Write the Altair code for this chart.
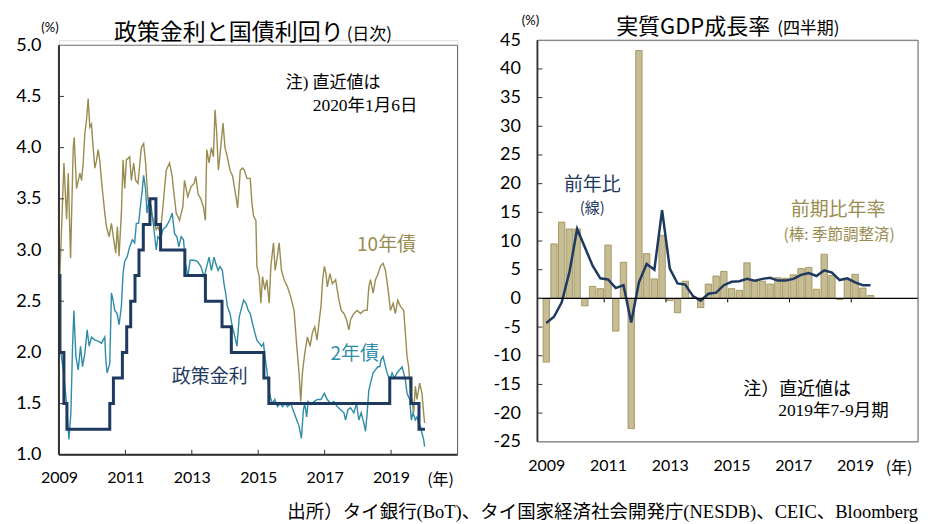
import altair as alt
import pandas as pd

# ---------------- Left panel: policy rate & government bond yields (daily) ----------------
policy_year = [2009.0, 2009.03, 2009.15, 2009.24, 2010.53, 2010.64, 2010.91, 2011.04, 2011.16,
               2011.29, 2011.41, 2011.54, 2011.74, 2011.92, 2012.06, 2012.79, 2013.41, 2013.91,
               2014.19, 2015.17, 2015.32, 2018.96, 2019.6, 2019.84, 2020.02]
policy_rate = [2.75, 2.00, 1.50, 1.25, 1.50, 1.75, 2.00, 2.25, 2.50,
               2.75, 3.00, 3.25, 3.50, 3.25, 3.00, 2.75, 2.50, 2.25,
               2.00, 1.75, 1.50, 1.75, 1.50, 1.25, 1.25]

y10_year = [2009.01, 2009.03, 2009.15, 2009.23, 2009.28, 2009.35, 2009.43, 2009.46, 2009.53, 2009.63,
            2009.68, 2009.73, 2009.78, 2009.83, 2009.88, 2009.93, 2009.98, 2010.03, 2010.08, 2010.13,
            2010.18, 2010.23, 2010.28, 2010.33, 2010.38, 2010.43, 2010.51, 2010.58, 2010.65, 2010.71,
            2010.76, 2010.81, 2010.88, 2010.93, 2010.98, 2011.03, 2011.13, 2011.18, 2011.25, 2011.31,
            2011.38, 2011.48, 2011.55, 2011.61, 2011.68, 2011.78, 2011.85, 2011.93, 2011.98, 2012.05,
            2012.13, 2012.23, 2012.33, 2012.41, 2012.45, 2012.53, 2012.63, 2012.73, 2012.78, 2012.88,
            2012.98, 2013.07, 2013.12, 2013.19, 2013.27, 2013.35, 2013.41, 2013.45, 2013.52, 2013.59,
            2013.65, 2013.70, 2013.75, 2013.80, 2013.87, 2013.94, 2014.00, 2014.07, 2014.15, 2014.23,
            2014.28, 2014.33, 2014.38, 2014.46, 2014.53, 2014.58, 2014.66, 2014.76, 2014.81, 2014.86,
            2014.93, 2014.96, 2015.03, 2015.08, 2015.13, 2015.20, 2015.26, 2015.33, 2015.38, 2015.46,
            2015.51, 2015.56, 2015.63, 2015.70, 2015.78, 2015.88, 2015.98, 2016.08, 2016.16, 2016.23,
            2016.28, 2016.33, 2016.40, 2016.48, 2016.56, 2016.63, 2016.70, 2016.77, 2016.84, 2016.89,
            2016.94, 2016.99, 2017.04, 2017.08, 2017.16, 2017.23, 2017.33, 2017.43, 2017.50, 2017.58,
            2017.66, 2017.73, 2017.78, 2017.88, 2017.98, 2018.08, 2018.18, 2018.28, 2018.33, 2018.38,
            2018.46, 2018.53, 2018.60, 2018.68, 2018.76, 2018.83, 2018.90, 2018.98, 2019.06, 2019.13,
            2019.20, 2019.28, 2019.38, 2019.43, 2019.48, 2019.53, 2019.58, 2019.63, 2019.68, 2019.73,
            2019.78, 2019.86, 2019.93, 2019.98, 2020.01]
y10_value = [2.60, 2.77, 3.85, 3.30, 3.75, 2.92, 4.00, 4.10, 3.60, 3.75,
             3.68, 3.85, 4.14, 4.27, 4.48, 4.20, 4.23, 4.00, 3.80, 3.87,
             3.98, 3.87, 3.68, 3.52, 3.36, 3.23, 3.13, 3.26, 3.10, 2.97,
             3.23, 2.94, 3.36, 3.88, 3.60, 3.88, 3.91, 3.68, 3.85, 3.68,
             3.65, 4.00, 4.04, 3.85, 3.49, 3.36, 3.29, 3.20, 3.23, 3.16,
             3.42, 3.78, 3.85, 3.72, 3.59, 3.36, 3.29, 3.42, 3.68, 3.52,
             3.62, 3.65, 3.72, 3.55, 3.50, 3.42, 3.29, 3.98, 3.85, 4.00,
             3.91, 4.37, 4.14, 3.78, 4.00, 4.24, 4.00, 3.91, 3.78, 3.72,
             3.62, 3.52, 3.41, 3.78, 3.80, 3.78, 3.70, 3.70, 3.46, 3.33,
             3.29, 2.84, 2.74, 2.48, 2.74, 2.61, 2.71, 2.48, 2.84, 3.07,
             2.80, 2.90, 3.07, 2.80, 2.71, 2.64, 2.54, 2.41, 2.06, 1.80,
             1.52, 1.80, 1.99, 2.15, 2.06, 2.19, 2.25, 2.12, 2.32, 2.45,
             2.71, 2.84, 2.77, 2.64, 2.77, 2.67, 2.71, 2.51, 2.41, 2.38,
             2.32, 2.22, 2.32, 2.38, 2.41, 2.38, 2.41, 2.41, 2.64, 2.71,
             2.58, 2.71, 2.76, 2.84, 2.87, 2.80, 2.64, 2.41, 2.48, 2.38,
             2.51, 2.45, 2.41, 2.19, 1.96, 1.86, 1.60, 1.54, 1.41, 1.67,
             1.54, 1.70, 1.60, 1.41, 1.31]

y2_year = [2009.01, 2009.03, 2009.13, 2009.23, 2009.30, 2009.36, 2009.41, 2009.45, 2009.51, 2009.58,
           2009.65, 2009.71, 2009.78, 2009.85, 2009.91, 2009.98, 2010.08, 2010.18, 2010.28, 2010.38,
           2010.41, 2010.45, 2010.53, 2010.58, 2010.63, 2010.68, 2010.75, 2010.81, 2010.88, 2010.93,
           2010.98, 2011.05, 2011.13, 2011.21, 2011.28, 2011.33, 2011.40, 2011.45, 2011.51, 2011.55,
           2011.61, 2011.65, 2011.71, 2011.78, 2011.85, 2011.93, 2011.98, 2012.05, 2012.13, 2012.23,
           2012.33, 2012.41, 2012.48, 2012.55, 2012.61, 2012.68, 2012.75, 2012.81, 2012.88, 2012.95,
           2013.07, 2013.17, 2013.27, 2013.37, 2013.45, 2013.52, 2013.59, 2013.67, 2013.72, 2013.79,
           2013.85, 2013.92, 2013.97, 2014.02, 2014.07, 2014.15, 2014.22, 2014.27, 2014.36, 2014.43,
           2014.48, 2014.56, 2014.63, 2014.70, 2014.76, 2014.83, 2014.90, 2014.96, 2015.03, 2015.10,
           2015.16, 2015.20, 2015.26, 2015.31, 2015.36, 2015.43, 2015.50, 2015.58, 2015.66, 2015.73,
           2015.81, 2015.88, 2015.98, 2016.08, 2016.16, 2016.23, 2016.30, 2016.36, 2016.40, 2016.46,
           2016.50, 2016.58, 2016.68, 2016.78, 2016.89, 2016.99, 2017.08, 2017.18, 2017.28, 2017.38,
           2017.48, 2017.58, 2017.63, 2017.70, 2017.78, 2017.88, 2017.96, 2018.03, 2018.10, 2018.18,
           2018.23, 2018.28, 2018.33, 2018.38, 2018.46, 2018.53, 2018.60, 2018.66, 2018.70, 2018.76,
           2018.81, 2018.88, 2018.96, 2019.03, 2019.10, 2019.18, 2019.26, 2019.33, 2019.38, 2019.43,
           2019.48, 2019.56, 2019.61, 2019.66, 2019.73, 2019.78, 2019.83, 2019.88, 2019.93, 2019.98,
           2020.01]
y2_value = [2.10, 2.06, 1.83, 1.50, 1.15, 1.41, 2.06, 2.41, 1.96, 1.83,
            2.06, 1.86, 1.99, 2.22, 2.06, 2.15, 2.12, 2.11, 2.09, 2.15,
            1.93, 1.80, 1.89, 2.58, 2.51, 2.41, 2.38, 2.27, 2.45, 2.77,
            2.89, 2.93, 3.03, 3.10, 3.07, 3.26, 3.26, 3.42, 3.59, 3.73,
            3.59, 3.36, 3.49, 3.42, 3.23, 3.00, 3.13, 3.10, 3.20, 3.23,
            3.29, 3.36, 3.16, 3.13, 3.03, 3.13, 3.10, 2.87, 2.74, 2.90,
            2.90, 2.89, 2.84, 2.74, 2.84, 2.93, 2.80, 2.93, 2.87, 2.80,
            2.84, 2.80, 2.67, 2.58, 2.45, 2.38, 2.25, 2.19, 2.06, 2.35,
            2.41, 2.51, 2.48, 2.41, 2.38, 2.28, 2.19, 2.12, 2.09, 2.06,
            2.09, 1.96, 1.83, 1.67, 1.57, 1.50, 1.54, 1.47, 1.50, 1.47,
            1.50, 1.47, 1.50, 1.41, 1.34, 1.28, 1.16, 1.44, 1.50, 1.37,
            1.52, 1.49, 1.52, 1.54, 1.54, 1.60, 1.54, 1.50, 1.52, 1.47,
            1.44, 1.41, 1.34, 1.44, 1.46, 1.41, 1.50, 1.34, 1.41, 1.31,
            1.23, 1.41, 1.63, 1.70, 1.80, 1.83, 1.86, 1.86, 1.93, 1.96,
            1.89, 1.80, 1.73, 1.80, 1.75, 1.80, 1.83, 1.86, 1.80, 1.73,
            1.60, 1.54, 1.34, 1.41, 1.34, 1.37, 1.31, 1.28, 1.21, 1.15,
            1.08]

left_y_ticks = [1.0, 1.5, 2.0, 2.5, 3.0, 3.5, 4.0, 4.5, 5.0]
left_x_ticks = [2009, 2011, 2013, 2015, 2017, 2019]

# ---------------- Right panel: real GDP growth (quarterly) ----------------
quarters = [f"{y}Q{q}" for y in range(2009, 2020) for q in range(1, 5)][:43]
qoq_saar = [-11.1, 9.5, 13.3, 12.1, 12.1, -1.3, 2.1, 1.7, 9.3, -5.7,
            6.3, -22.7, 43.2, 7.8, 3.4, 11.0, -0.4, -2.5, 3.0, 0.2,
            -1.6, 2.5, 3.9, 4.7, 1.7, 1.4, 6.2, 3.0, 3.0, 2.5,
            3.6, 3.5, 4.1, 5.2, 5.4, 1.6, 7.7, 4.0, -0.2, 3.2,
            4.2, 1.8, 0.5]
yoy = [-4.3, -3.2, -0.7, 4.6, 12.1, 8.9, 5.7, 3.5, 3.3, 1.8,
       2.3, -4.2, 2.8, 6.0, 5.0, 15.4, 5.2, 2.6, 2.4, 0.4,
       -0.4, 0.8, 1.0, 2.3, 2.9, 3.0, 3.4, 3.1, 3.4, 3.6,
       3.1, 3.1, 3.4, 4.1, 4.4, 3.9, 4.9, 4.5, 3.2, 3.5,
       2.8, 2.3, 2.3]
right_y_ticks = list(range(-25, 50, 5))
right_year_labels = [2009, 2011, 2013, 2015, 2017, 2019]
n_slots = 48  # 2009Q1 .. 2020Q4

# ---------------- styling ----------------
GOLD = "#9A8C50"
BAR_FILL = "#C6BD95"
TEAL = "#2F8CA8"
NAVY = "#1F3A60"
NUM_FONT = "Lato"
JP_FONT = "Noto Sans CJK JP"
MIX_FONT = "Liberation Serif, Noto Sans CJK JP"

W1, H1 = 399, 415          # left plot: top at 5.05, bottom 1.0
Y1_TOP = 5.0 + 5.0 * 4.0 / 410.0
W2, H2 = 381, 402

dummy = pd.DataFrame({"k": [0]})


def label(text, x, y, size, color="black", font=JP_FONT, align="center", baseline="middle", weight="normal"):
    return alt.Chart(dummy).mark_text(
        text=text, font=font, fontSize=size, color=color, align=align,
        baseline=baseline, fontWeight=weight
    ).encode(x=alt.value(x), y=alt.value(y))


# ---- left panel ----
xs1 = alt.Scale(domain=[2009, 2021], nice=False, zero=False)
ys1 = alt.Scale(domain=[1.0, Y1_TOP], nice=False, zero=False)
ax1x = alt.Axis(values=left_x_ticks, format="d", domain=False, ticks=False, tickSize=0, grid=False,
                labelFlush=False, labelOverlap=False,
                labelFont=NUM_FONT, labelFontSize=16, labelColor="black", labelPadding=15, title=None)
ax1y = alt.Axis(values=left_y_ticks, format=".1f", domain=False, ticks=False, tickSize=0, grid=False,
                labelFlush=False, labelOverlap=False,
                labelFont=NUM_FONT, labelFontSize=18, labelColor="black", labelPadding=18, title=None)


def X1(field):
    return alt.X(field, type="quantitative", scale=xs1, axis=ax1x)


def Y1(field):
    return alt.Y(field, type="quantitative", scale=ys1, axis=ax1y)


df10 = pd.DataFrame({"year": y10_year, "value": y10_value})
df2 = pd.DataFrame({"year": y2_year, "value": y2_value})
dfp = pd.DataFrame({"year": policy_year, "value": policy_rate})
dfyt = pd.DataFrame({"value": left_y_ticks[1:-1]})
dfxt = pd.DataFrame({"year": left_x_ticks[1:]})

l10 = alt.Chart(df10).mark_line(color=GOLD, strokeWidth=1.4).encode(x=X1("year"), y=Y1("value"))
l2 = alt.Chart(df2).mark_line(color=TEAL, strokeWidth=1.4).encode(x=X1("year"), y=Y1("value"))
lp = alt.Chart(dfp).mark_line(color=NAVY, strokeWidth=3, interpolate="step-after").encode(
    x=X1("year"), y=Y1("value"))
frame1 = alt.Chart(dummy).mark_rect(filled=False, stroke="#666666", strokeWidth=1).encode(
    x=alt.value(0), x2=alt.value(W1), y=alt.value(H1 - 410), y2=alt.value(H1))
laxis1 = alt.Chart(dummy).mark_rule(color="#333333", strokeWidth=2).encode(
    x=alt.value(0), y=alt.value(H1 - 410), y2=alt.value(H1))
baxis1 = alt.Chart(dummy).mark_rule(color="#333333", strokeWidth=2).encode(
    x=alt.value(0), x2=alt.value(W1), y=alt.value(H1))
yt1 = alt.Chart(dfyt).mark_rule(color="#333333", strokeWidth=1).encode(
    y=Y1("value"), x=alt.value(0), x2=alt.value(5))
xt1 = alt.Chart(dfxt).mark_rule(color="#333333", strokeWidth=1).encode(
    x=X1("year"), y=alt.value(H1), y2=alt.value(H1 - 5))

left = alt.layer(
    l10, l2, lp, frame1, laxis1, baxis1, yt1, xt1,
    label("政策金利と国債利回り", 285, 0, 23, align="right", baseline="alphabetic"),
    label("(日次)", 288, 0, 17, align="left", baseline="alphabetic"),
    label("(%)", -9, -8, 13, font=NUM_FONT, baseline="alphabetic"),
    label("注) 直近値は", 227, 48, 17, font=MIX_FONT, align="left", baseline="alphabetic"),
    label("2020年1月6日", 254, 71, 17.5, font=MIX_FONT, align="left", baseline="alphabetic"),
    label("10年債", 328, 205, 19, color=GOLD),
    label("2年債", 296, 314, 19, color=TEAL),
    label("政策金利", 151, 337, 19, color=NAVY),
    label("(年)", 382, 440, 16),
).properties(width=W1, height=H1)

# ---- right panel ----
xs2 = alt.Scale(domain=[0, n_slots], nice=False, zero=False)
ys2 = alt.Scale(domain=[-25, 45], nice=False, zero=False)
ax2x = alt.Axis(values=[4 * (y - 2009) + 0.5 for y in right_year_labels],
                labelExpr="'' + (2009 + floor(datum.value / 4))",
                domain=False, ticks=False, tickSize=0, grid=False, labelFlush=False, labelOverlap=False,
                labelFont=NUM_FONT, labelFontSize=16, labelColor="black", labelPadding=16, title=None)
ax2y = alt.Axis(values=right_y_ticks, labelExpr="'' + datum.value", domain=False, ticks=False,
                tickSize=0, grid=False, labelFlush=False, labelOverlap=False,
                labelFont=NUM_FONT, labelFontSize=18, labelColor="black",
                labelPadding=17, title=None)


def X2(field):
    return alt.X(field, type="quantitative", scale=xs2, axis=ax2x)


def Y2(field):
    return alt.Y(field, type="quantitative", scale=ys2, axis=ax2y)


dfg = pd.DataFrame({"q": quarters, "slot": [i + 0.5 for i in range(len(quarters))],
                    "qoq": qoq_saar, "yoy": yoy})
dfyt2 = pd.DataFrame({"v": right_y_ticks[1:-1]})
dfxt2 = pd.DataFrame({"slot": [4 * (y - 2009) for y in range(2011, 2021, 2)]})
dfzero = pd.DataFrame({"v": [0]})
zero_px = H2 * 45 / 70.0

bars = alt.Chart(dfg).mark_bar(size=6.4, fill=BAR_FILL, stroke=GOLD, strokeWidth=0.8).encode(
    x=X2("slot"), y=Y2("qoq"))
yline = alt.Chart(dfg).mark_line(color=NAVY, strokeWidth=2.5).encode(x=X2("slot"), y=Y2("yoy"))
zero = alt.Chart(dfzero).mark_rule(color="black", strokeWidth=1.2).encode(
    y=Y2("v"), x=alt.value(0), x2=alt.value(W2))
frame2 = alt.Chart(dummy).mark_rect(filled=False, stroke="#666666", strokeWidth=1).encode(
    x=alt.value(0), x2=alt.value(W2), y=alt.value(0), y2=alt.value(H2))
laxis2 = alt.Chart(dummy).mark_rule(color="#333333", strokeWidth=1.8).encode(
    x=alt.value(0), y=alt.value(0), y2=alt.value(H2))
yt2 = alt.Chart(dfyt2).mark_rule(color="#333333", strokeWidth=1).encode(
    y=Y2("v"), x=alt.value(0), x2=alt.value(5))
xt2 = alt.Chart(dfxt2).mark_rule(color="black", strokeWidth=1).encode(
    x=X2("slot"), y=alt.value(zero_px), y2=alt.value(zero_px + 4))

right = alt.layer(
    bars, yline, zero, frame2, laxis2, yt2, xt2,
    label("実質GDP成長率", 233, -6, 22, align="right", baseline="alphabetic"),
    label("(四半期)", 240, -6, 17, align="left", baseline="alphabetic"),
    label("(%)", -7, -15, 13, font=NUM_FONT, baseline="alphabetic"),
    label("前年比", 55, 145, 19, color=NAVY),
    label("(線)", 55, 168, 15, color=NAVY),
    label("前期比年率", 301, 170, 19, color=GOLD),
    label("(棒: 季節調整済)", 302, 195, 15.5, color=GOLD),
    label("注）直近値は", 206, 355, 18, font=MIX_FONT, align="left", baseline="alphabetic"),
    label("2019年7-9月期", 241, 376, 17.5, font=MIX_FONT, align="left", baseline="alphabetic"),
    label("(年)", 362, 428, 16),
    label("出所）タイ銀行(BoT)、タイ国家経済社会開発庁(NESDB)、CEIC、Bloomberg", W2, 478, 18.5,
          font=MIX_FONT, align="right", baseline="alphabetic"),
).properties(width=W2, height=H2)

chart = alt.hconcat(left, right, spacing=80, bounds="flush").properties(
    padding={"left": 7, "top": 6, "right": 0, "bottom": 0}
).configure_view(strokeWidth=0).configure(background="white")

chart.save("out.html", embed_options={"renderer": "svg", "actions": False})
